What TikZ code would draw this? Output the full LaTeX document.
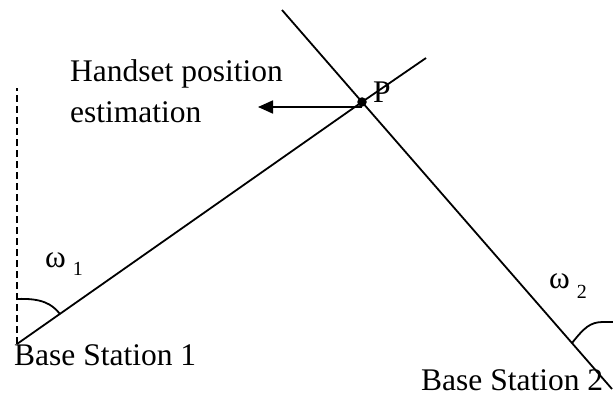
\documentclass[tikz,border=0pt]{standalone}
\usepackage{fontspec}
\setmainfont{Liberation Serif}
\usetikzlibrary{arrows.meta,positioning}

\begin{document}
\begin{tikzpicture}[x=1pt,y=1pt,
  ray/.style={line width=1.8pt},
  lbl/.style={inner sep=0pt,anchor=base west,font=\fontsize{31.5}{41}\selectfont}]
  \useasboundingbox (0,0) rectangle (613,397);
  \coordinate (bs1) at (17,53);
  \coordinate (bs2) at (612,8);
  \coordinate (north1) at (17,309);
  \coordinate (far1) at (426,339);
  \coordinate (far2) at (282,387);
  \coordinate (tip) at (258,290);
  \node[circle,fill,inner sep=0pt,minimum size=9.5pt] (p) at (362,295) {};
  \draw[ray,dash pattern=on 7pt off 4pt] (bs1) -- (north1);
  \draw[ray] (bs1) -- (p.center) -- (far1);
  \draw[ray] (far2) -- (p.center) -- (bs2);
  \draw[ray,-{Triangle[length=15pt,width=13pt]}] (p.center |- tip) -- (tip);
  \draw[ray] (17,98) .. controls (42,99) and (52,93) .. (60,83);
  \draw[ray] (572,54) .. controls (584,69) and (590,75) .. (603,75) -- (613,75);
  \node[lbl,align=left] (hpe) at (70,274) {Handset position\\estimation};
  \node[lbl] (plbl) at (373,294) {P};
  \node[lbl] (name1) at (14,32) {Base Station 1};
  \node[lbl] (name2) at (421,7) {Base Station 2};
  \node[lbl] (w1) at (45,130) {ω\hspace{7pt}\raisebox{-8pt}{\fontsize{20}{20}\selectfont 1}};
  \node[lbl] (w2) at (549,109) {ω\hspace{7pt}\raisebox{-10pt}{\fontsize{20}{20}\selectfont 2}};
\end{tikzpicture}
\end{document}
